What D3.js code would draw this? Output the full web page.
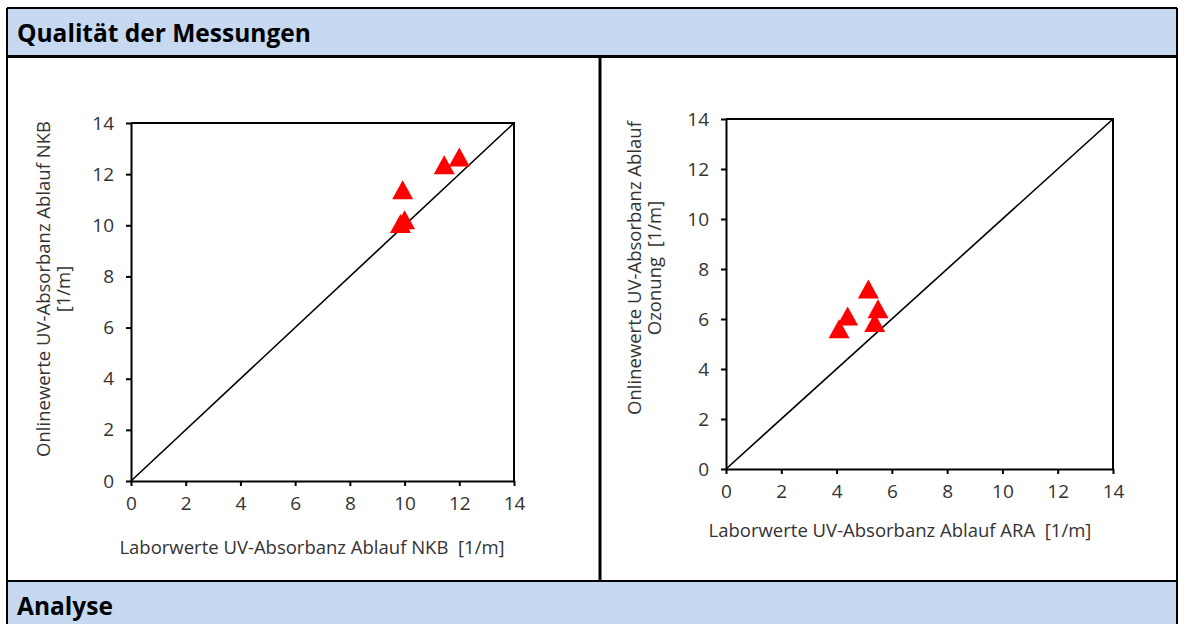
<!DOCTYPE html>
<html>
<head>
<meta charset="utf-8">
<script src="https://cdn.jsdelivr.net/npm/d3@7"></script>
<style>
  body { margin: 0; background: #fff; }
  text { font-family: "Open Sans", "Noto Sans", sans-serif; }
</style>
</head>
<body>
<div id="frame"></div>
<script>
// data
let tickValues = [0, 2, 4, 6, 8, 10, 12, 14];
let nkbLab = [12.0, 11.45, 9.93, 9.85, 10.0];
let nkbOnline = [12.65, 12.35, 11.37, 10.05, 10.2];
let araLab = [5.15, 4.4, 4.09, 5.5, 5.38];
let araOnline = [7.18, 6.1, 5.59, 6.39, 5.84];

let W = 1179, H = 624;
let blue = '#c6d9f0';

let svg = d3.select('#frame')
    .append('svg')
    .attr('width', W)
    .attr('height', H);

//page frame
svg.append('rect').attr('x', 0).attr('y', 0).attr('width', W).attr('height', H).attr('fill', '#fff');
svg.append('rect').attr('x', 7).attr('y', 8).attr('width', 1170).attr('height', 48).attr('fill', blue);
svg.append('rect').attr('x', 7).attr('y', 581).attr('width', 1170).attr('height', 50).attr('fill', blue);

let lines = [
    [7, 8, 1177, 8, 2],
    [7, 8, 7, 630, 2],
    [1177, 8, 1177, 630, 2],
    [7, 56.5, 1177, 56.5, 3],
    [7, 581, 1177, 581, 2],
    [600, 56, 600, 581, 3]
];
svg.selectAll('line.frame')
    .data(lines)
    .enter()
    .append('line')
    .attr('class', 'frame')
    .attr('x1', d => d[0]).attr('y1', d => d[1])
    .attr('x2', d => d[2]).attr('y2', d => d[3])
    .attr('stroke', '#000')
    .attr('stroke-width', d => d[4]);

svg.append('text')
    .attr('x', 17).attr('y', 42)
    .style('font-size', '24.5px').style('font-weight', 'bold')
    .text('Qualität der Messungen');
svg.append('text')
    .attr('x', 17).attr('y', 615)
    .style('font-size', '24.5px').style('font-weight', 'bold')
    .text('Analyse');

//one scatter chart
function drawChart(cfg) {
    let x = d3.scaleLinear().domain([0, 14]).range([cfg.left, cfg.right]);
    let y = d3.scaleLinear().domain([0, 14]).range([cfg.bottom, cfg.top]);
    let g = svg.append('g');

    //top and right border of plot area
    g.append('path')
        .attr('d', `M${x(0)},${y(14)}H${x(14)}V${y(0)}`)
        .attr('fill', 'none').attr('stroke', '#000').attr('stroke-width', 2);

    //1:1 line
    g.append('line')
        .attr('x1', x(0)).attr('y1', y(0))
        .attr('x2', x(14)).attr('y2', y(14))
        .attr('stroke', '#000').attr('stroke-width', 1.6);

    let xAxis = g.append('g')
        .attr('transform', `translate(0,${cfg.bottom})`)
        .call(d3.axisBottom(x).tickValues(tickValues).tickSize(5).tickSizeOuter(0).tickPadding(11));
    let yAxis = g.append('g')
        .attr('transform', `translate(${cfg.left},0)`)
        .call(d3.axisLeft(y).tickValues(tickValues).tickSize(5).tickSizeOuter(0).tickPadding(12));
    [xAxis, yAxis].forEach(a => {
        a.select('.domain').attr('stroke-width', 2);
        a.selectAll('.tick line').attr('stroke-width', 2);
        a.selectAll('text').style('font-size', '19px').style('font-family', '"Open Sans", sans-serif').attr('fill', '#333');
    });

    //triangles
    g.selectAll('path.pt')
        .data(cfg.lab.map((v, i) => [v, cfg.online[i]]))
        .enter()
        .append('path')
        .attr('class', 'pt')
        .attr('d', 'M0,-10L10.5,9L-10.5,9Z')
        .attr('transform', d => `translate(${x(d[0])},${y(d[1])})`)
        .attr('fill', '#ff0000');

    //axis titles
    g.append('text')
        .attr('x', cfg.xTitleX)
        .attr('y', cfg.xTitleY)
        .attr('text-anchor', 'middle')
        .style('font-size', '18.5px').attr('fill', '#333')
        .text(cfg.xTitle);
    cfg.yTitle.forEach((t, i) => {
        g.append('text')
            .attr('transform', `translate(${cfg.yTitleX + i * 20},${cfg.yTitleY}) rotate(-90)`)
            .attr('text-anchor', 'middle')
            .style('font-size', '18.5px').attr('fill', '#333')
            .text(t);
    });
}

drawChart({
    left: 131, right: 514, top: 123, bottom: 481,
    lab: nkbLab, online: nkbOnline,
    xTitle: 'Laborwerte UV-Absorbanz Ablauf NKB\u00a0\u00a0[1/m]', xTitleX: 312, xTitleY: 554,
    yTitle: ['Onlinewerte UV-Absorbanz Ablauf NKB', '[1/m]'], yTitleX: 50, yTitleY: 289
});
drawChart({
    left: 726, right: 1113, top: 119, bottom: 469,
    lab: araLab, online: araOnline,
    xTitle: 'Laborwerte UV-Absorbanz Ablauf ARA\u00a0\u00a0[1/m]', xTitleX: 900, xTitleY: 537,
    yTitle: ['Onlinewerte UV-Absorbanz Ablauf', 'Ozonung\u00a0\u00a0[1/m]'], yTitleX: 641, yTitleY: 268
});
</script>
</body>
</html>
